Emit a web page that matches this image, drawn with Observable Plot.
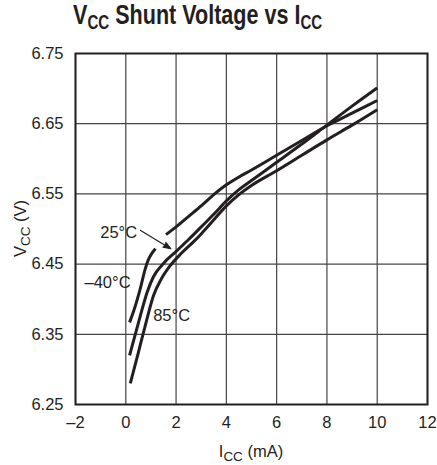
<!DOCTYPE html>
<html><head><meta charset="utf-8">
<script src="https://cdn.jsdelivr.net/npm/d3@7"></script>
<script src="https://cdn.jsdelivr.net/npm/@observablehq/plot@0.6"></script>
<style>
body{margin:0;background:#fff;font-family:"Liberation Sans",Arial,sans-serif;color:#231f20;}
#title{height:40px;line-height:30px;padding-left:73px;font-size:28px;font-weight:bold;white-space:nowrap;}
#title .in{display:inline-block;transform:scaleX(0.77);transform-origin:0 50%;}
#title .s{font-size:0.7em;position:relative;top:0.25em;}
</style></head>
<body>
<div id="title"><span class="in">V<span class="s">CC</span> Shunt Voltage vs I<span class="s">CC</span></span></div>
<div id="chart"></div>
<script>
// ---- data ----
const xTicks = [-2, 0, 2, 4, 6, 8, 10, 12];
const yTicks = [6.25, 6.35, 6.45, 6.55, 6.65, 6.75];

// -40°C curve (drawn in two pieces: broken where the 25°C arrow crosses)
const iM40a = [0.15, 0.32, 0.59, 0.78, 0.92, 1.05, 1.18];
const vM40a = [6.367, 6.384, 6.417, 6.444, 6.458, 6.466, 6.472];
const iM40b = [1.6, 2.0, 2.5, 3.0, 3.5, 4.0, 4.5, 5.0, 6.0, 7.0, 8.0, 9.0, 10.0];
const vM40b = [6.492, 6.503, 6.518, 6.533, 6.549, 6.563, 6.574, 6.584, 6.605, 6.626, 6.647, 6.665, 6.683];
// 25°C curve
const i25 = [0.15, 0.5, 0.85, 1.1, 1.5, 2.0, 2.5, 3.0, 3.5, 4.0, 4.5, 5.0, 6.0, 7.0, 8.0, 9.0, 10.0];
const v25 = [6.320, 6.366, 6.410, 6.432, 6.451, 6.468, 6.485, 6.503, 6.521, 6.540, 6.556, 6.569, 6.595, 6.621, 6.648, 6.675, 6.701];
// 85°C curve
const i85 = [0.18, 0.5, 0.8, 1.1, 1.4, 1.75, 2.2, 2.7, 3.0, 3.5, 4.0, 4.5, 5.0, 6.0, 7.0, 8.0, 9.0, 10.0];
const v85 = [6.280, 6.324, 6.366, 6.405, 6.428, 6.447, 6.465, 6.482, 6.493, 6.513, 6.533, 6.549, 6.562, 6.583, 6.605, 6.627, 6.648, 6.670];

// curve labels
const labelText = ["25°C", "\u201340°C", "85°C"];
const labelI = [0.45, 0.19, 1.09];
const labelV = [6.495, 6.424, 6.377];
const labelAnchor = ["end", "end", "start"];
// arrow from the 25°C label to its curve
const arrowFrom = [0.59, 6.498];
const arrowTo = [1.79, 6.472];

// ---- build tables ----
function rows(I, V, seg) { return I.map((x, k) => ({x, y: V[k], seg})); }
const curves = [
  ...rows(iM40a, vM40a, "m40a"),
  ...rows(iM40b, vM40b, "m40b"),
  ...rows(i25, v25, "25"),
  ...rows(i85, v85, "85")
];
const labels = labelText.map((t, k) => ({t, x: labelI[k], y: labelV[k], a: labelAnchor[k]}));
const ink = "#231f20";
const fmtX = d => d < 0 ? "\u2013" + Math.abs(d) : String(d);

const plot = Plot.plot({
  width: 437,
  height: 425,
  marginLeft: 75,
  marginRight: 10,
  marginTop: 13,
  marginBottom: 61,
  style: {fontFamily: '"Liberation Sans",Arial,sans-serif', fontSize: "16.5px", color: ink, background: "#fff"},
  x: {domain: [-2, 12], ticks: xTicks, tickFormat: fmtX, tickSize: 0, tickPadding: 12, label: null},
  y: {domain: [6.25, 6.75], ticks: yTicks, tickFormat: d => d.toFixed(2), tickSize: 0, tickPadding: 12, label: null},
  marks: [
    Plot.ruleX(xTicks, {stroke: "#444", strokeWidth: 1.2}),
    Plot.ruleY(yTicks, {stroke: "#444", strokeWidth: 1.2}),
    Plot.frame({stroke: ink, strokeWidth: 2}),
    Plot.line(curves, {x: "x", y: "y", z: "seg", stroke: ink, strokeWidth: 3, curve: "monotone-x", strokeLinecap: "butt"}),
    Plot.arrow([0], {x1: () => arrowFrom[0], y1: () => arrowFrom[1], x2: () => arrowTo[0], y2: () => arrowTo[1], stroke: ink, fill: ink, strokeWidth: 1.2, headLength: 10, headAngle: 40}),
    Plot.text(labels.filter(d => d.a === "end"), {x: "x", y: "y", text: "t", textAnchor: "end", fontSize: 16.5, fill: ink}),
    Plot.text(labels.filter(d => d.a === "start"), {x: "x", y: "y", text: "t", textAnchor: "start", fontSize: 16.5, fill: ink})
  ]
});
document.getElementById("chart").appendChild(plot);

// axis titles with subscripts
const sx = plot.scale("x"), sy = plot.scale("y");
const svg = d3.select(plot);
const cx = (sx.apply(-2) + sx.apply(12)) / 2;
const yBottom = sy.apply(6.25), yTop = sy.apply(6.75);
const xl = svg.append("text").attr("x", cx).attr("y", yBottom + 53).attr("text-anchor", "middle")
  .attr("fill", ink).style("font-size", "16.5px");
xl.append("tspan").text("I");
xl.append("tspan").attr("dy", 3.5).style("font-size", "13.5px").text("CC");
xl.append("tspan").attr("dy", -3.5).text(" (mA)");
const yl = svg.append("text").attr("transform", `translate(26,${(yBottom + yTop) / 2}) rotate(-90)`)
  .attr("text-anchor", "middle").attr("fill", ink).style("font-size", "16.5px");
yl.append("tspan").text("V");
yl.append("tspan").attr("dy", 3.5).style("font-size", "13.5px").text("CC");
yl.append("tspan").attr("dy", -3.5).text(" (V)");
</script>
</body></html>
